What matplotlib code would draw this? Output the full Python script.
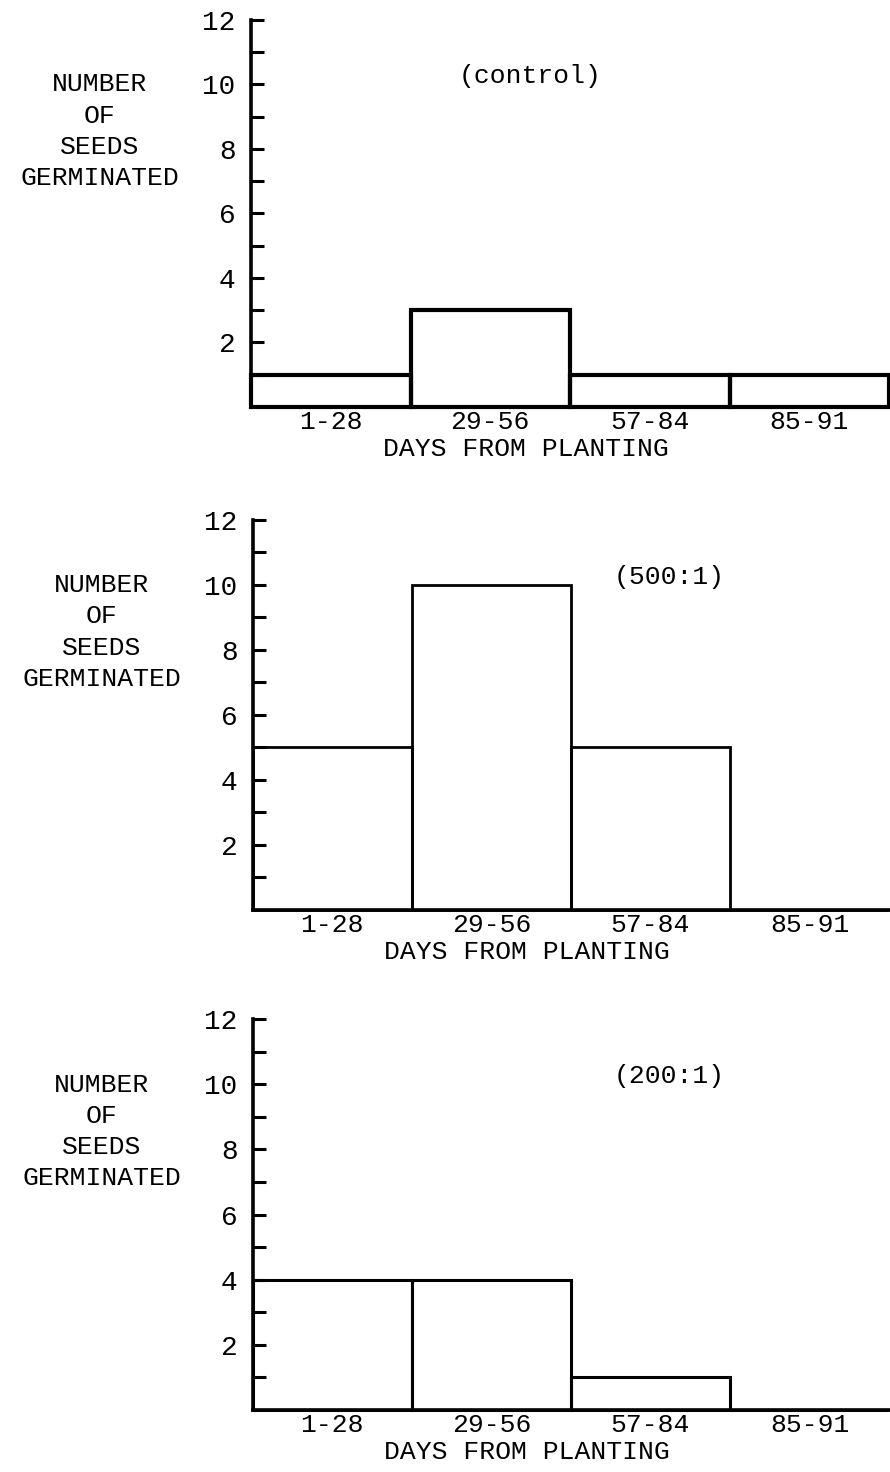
import numpy as np
import matplotlib
matplotlib.use("Agg")
import matplotlib.pyplot as plt
from matplotlib.ticker import FixedLocator, NullFormatter

FONT = "Liberation Mono"
plt.rcParams['font.family'] = [FONT, 'DejaVu Sans Mono']

BINS = ['1-28', '29-56', '57-84', '85-91']
control = [1, 3, 1, 1]
ratio500 = [5, 10, 5, 0]
ratio200 = [4, 4, 1, 0]

# values, tag, tag x position, bar edge width
PANELS = [
    (control, '(control)', 1.75, 3.0),
    (ratio500, '(500:1)', 2.62, 2.0),
    (ratio200, '(200:1)', 2.62, 2.2),
]
YTICKS = [2, 4, 6, 8, 10, 12]
YLABEL = "NUMBER\nOF\nSEEDS\nGERMINATED"
XLABEL = "DAYS FROM PLANTING"

# axes boxes in figure fraction: left, bottom, width, height
BOXES = [
    [0.282, 0.7235, 0.717, 0.263],
    [0.284, 0.3818, 0.715, 0.265],
    [0.284, 0.0421, 0.715, 0.2656],
]

fig = plt.figure(figsize=(8.9, 14.72), dpi=100)

for (vals, tag, tagx, lw), box in zip(PANELS, BOXES):
    ax = fig.add_axes(box)
    x = np.arange(len(BINS))
    ax.bar(x, vals, width=1.0, align='edge', fill=False,
           edgecolor='black', linewidth=lw, clip_on=False)
    ax.set_xlim(0, 4.0)
    ax.set_ylim(0, 12)

    for s in ['top', 'right']:
        ax.spines[s].set_visible(False)
    for s in ['left', 'bottom']:
        ax.spines[s].set_linewidth(2.6)

    ax.yaxis.set_major_locator(FixedLocator(YTICKS))
    ax.yaxis.set_minor_locator(FixedLocator([1, 3, 5, 7, 9, 11]))
    ax.yaxis.set_minor_formatter(NullFormatter())
    ax.tick_params(axis='y', which='both', direction='in', length=9,
                   width=2.2, pad=11, labelsize=20)
    ax.set_yticklabels([str(t) for t in YTICKS])

    ax.set_xticks(x + 0.5)
    ax.set_xticklabels(BINS, fontsize=19)
    ax.tick_params(axis='x', length=0, pad=2)

    ax.annotate(XLABEL, xy=(1.72, 0), xycoords=('data', 'axes fraction'),
                xytext=(0, -30), textcoords='offset points',
                ha='center', va='center', fontsize=19)

    ax.text(-0.237, 8.55, YLABEL, transform=ax.get_yaxis_transform(),
            ha='center', va='center', fontsize=19, linespacing=1.38,
            multialignment='center')

    ax.text(tagx, 10.25, tag, ha='center', va='center', fontsize=19)

plt.savefig('out.png', dpi=100)
plt.close(fig)
